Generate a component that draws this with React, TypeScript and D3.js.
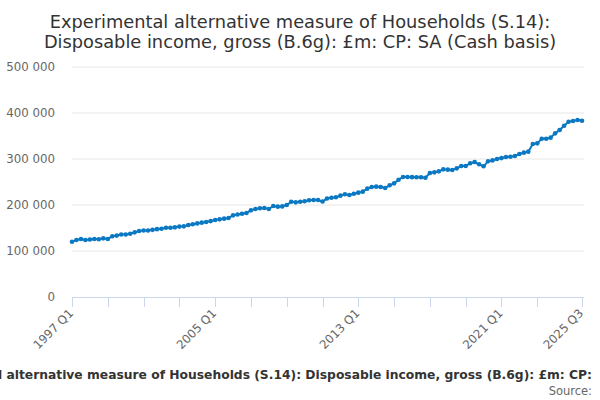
import React from "react";
import * as d3 from "d3";

const titleLines = [
  "Experimental alternative measure of Households (S.14):",
  "Disposable income, gross (B.6g): £m: CP: SA (Cash basis)",
];
const footerText =
  "Experimental alternative measure of Households (S.14): Disposable income, gross (B.6g): £m: CP:";
const sourceText = "Source:";

const startYear = 1997;
// quarterly values, £m, 1997 Q1 .. 2025 Q3
const values = [
  120000, 124000, 126000, 124000, 125000, 126000, 125500, 127500,
  126000, 132000, 133500, 136000, 136000, 137500, 140500, 143500,
  144500, 144500, 146000, 147500, 148500, 150500, 150700, 151400,
  153000, 153600, 156500, 158000, 160000, 161600, 163000, 165000,
  167400, 168800, 170300, 171700, 177500, 179500, 181000, 182600,
  188400, 191300, 192800, 193500, 191300, 197800, 196400, 197000,
  200000, 207200, 205800, 207200, 208000, 210200, 210900, 210900,
  207500, 214000, 215900, 216700, 220300, 223300, 221700, 224600,
  226800, 229000, 235500, 239000, 239900, 239000, 237000, 242800,
  247100, 255000, 260900, 260900, 260500, 260200, 260200, 259400,
  269600, 271000, 273200, 277500, 276800, 276000, 279700, 284800,
  284800, 290600, 293500, 288500, 284100, 295000, 297000, 300000,
  302000, 304300, 305000, 306500, 310900, 313800, 316000, 332600,
  334000, 344000, 344000, 346400, 355800, 363000, 372400, 381000,
  382600, 384800, 383300,
];
const quarters = values.map((_, i) => `${startYear + Math.floor(i / 4)} Q${(i % 4) + 1}`);
const yTicks = [0, 100000, 200000, 300000, 400000, 500000];
const tickIndices = [0, 8, 16, 24, 32, 40, 48, 56, 64, 72, 80, 88, 96, 104, 114];
const labelIndices = [0, 32, 64, 96, 114];

const W = 600;
const H = 400;
const left = 72;
const right = 582;
const top = 67;
const bottom = 297;
const font = "'DejaVu Sans', sans-serif";
const blue = "#0a78c2";

export default function App() {
  const x = d3.scaleLinear().domain([0, values.length - 1]).range([left, right]);
  const y = d3.scaleLinear().domain([0, 500000]).range([bottom, top]);
  const fmt = (v: number) => d3.format(",")(v).replace(/,/g, " ");
  const line = d3
    .line<number>()
    .x((_, i) => x(i))
    .y((d) => y(d));

  return (
    <svg
      width={W}
      height={H}
      style={{ position: "absolute", left: 0, top: 0, background: "#fff" }}
      fontFamily={font}
    >
      <rect width={W} height={H} fill="#fff" />
      {titleLines.map((t, i) => (
        <text key={i} x={W / 2} y={27.5 + i * 20.5} textAnchor="middle" fontSize={17.8} fill="#333">
          {t}
        </text>
      ))}
      {yTicks.map((t) => (
        <g key={t}>
          {t > 0 && (
            <line x1={left} x2={right + 2} y1={y(t)} y2={y(t)} stroke="#e6e6e6" strokeWidth={1} />
          )}
          <text x={55} y={y(t) + 4} textAnchor="end" fontSize={11.8} fill="#666">
            {fmt(t)}
          </text>
        </g>
      ))}
      <line x1={left} x2={right + 2} y1={bottom + 0.5} y2={bottom + 0.5} stroke="#ccd6eb" />
      {tickIndices.map((i) => (
        <line
          key={i}
          x1={Math.round(x(i)) + 0.5}
          x2={Math.round(x(i)) + 0.5}
          y1={bottom}
          y2={bottom + 10}
          stroke="#ccd6eb"
        />
      ))}
      {labelIndices.map((i) => (
        <text
          key={i}
          transform={`translate(${x(i) + 2},${bottom + 17}) rotate(-45)`}
          textAnchor="end"
          fontSize={11.8}
          fill="#666"
        >
          {quarters[i]}
        </text>
      ))}
      <path d={line(values) || ""} fill="none" stroke={blue} strokeWidth={2} />
      {values.map((v, i) => (
        <circle key={i} cx={x(i)} cy={y(v)} r={2.3} fill={blue} />
      ))}
      <text x={592} y={379} textAnchor="end" fontSize={12.3} fontWeight="bold" fill="#333">
        {footerText}
      </text>
      <text x={592} y={395} textAnchor="end" fontSize={11.5} fill="#666">
        {sourceText}
      </text>
    </svg>
  );
}
